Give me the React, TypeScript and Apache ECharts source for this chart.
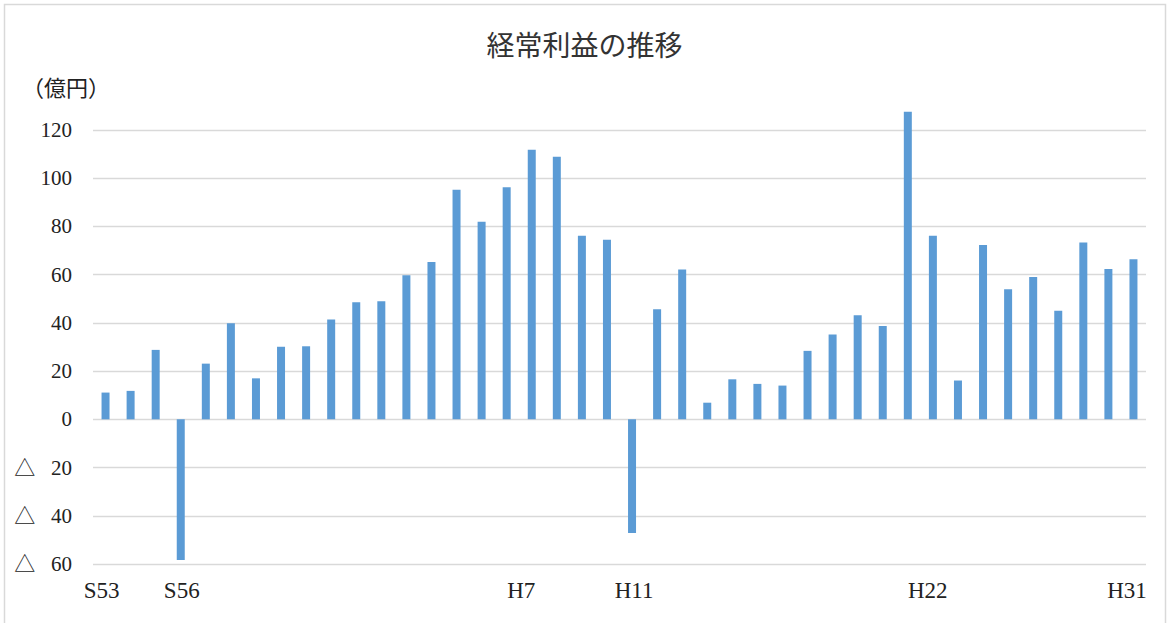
import React, { useEffect, useRef } from "react";
import * as echarts from "echarts";

const categories = [
  "S53", "S54", "S55", "S56", "S57", "S58", "S59", "S60", "S61", "S62", "S63",
  "H1", "H2", "H3", "H4", "H5", "H6", "H7", "H8", "H9", "H10",
  "H11", "H12", "H13", "H14", "H15", "H16", "H17", "H18", "H19", "H20",
  "H21", "H22", "H23", "H24", "H25", "H26", "H27", "H28", "H29", "H30", "H31",
];

const ordinaryProfit = [
  11.1, 11.8, 28.8, -58.3, 23.1, 39.8, 17.0, 30.1, 30.3, 41.4, 48.6,
  49.0, 59.8, 65.3, 95.2, 81.9, 96.3, 111.8, 108.9, 76.1, 74.5,
  -47.1, 45.7, 62.1, 6.9, 16.6, 14.7, 14.0, 28.4, 35.2, 43.2,
  38.7, 127.6, 76.1, 16.1, 72.3, 54.0, 59.0, 45.0, 73.3, 62.3, 66.4,
];

const shownLabels = ["S53", "S56", "H7", "H11", "H22", "H31"];

const yTicks = { min: -60, max: 120, interval: 20 };

const titleText = "経常利益の推移";
const unitText = "（億円）";

const SERIF = "'Liberation Serif', 'Noto Sans CJK JP', serif";

// label nudges (style only): [left padding, right padding]
const labelPad: Record<string, [number, number]> = {
  S53: [0, 8],
  S56: [2, 0],
  H7: [0, 21],
  H11: [4, 0],
  H22: [40, 0],
  H31: [0, 13],
};

export default function App() {
  const ref = useRef<HTMLDivElement>(null);

  useEffect(() => {
    if (!ref.current) return;
    const chart = echarts.init(ref.current, null, { renderer: "svg" });
    const rich: Record<string, any> = {};
    shownLabels.forEach((l) => {
      const p = labelPad[l] || [0, 0];
      rich[l] = {
        fontFamily: SERIF,
        fontSize: 23,
        color: "#222",
        padding: [0, p[1], 0, p[0]],
      };
    });
    chart.setOption({
      animation: false,
      backgroundColor: "#ffffff",
      title: {
        text: titleText,
        left: "center",
        top: 25,
        textStyle: {
          fontFamily: "'Noto Sans CJK JP', sans-serif",
          fontSize: 28,
          fontWeight: "normal",
          color: "#333",
        },
      },
      graphic: [
        {
          type: "rect",
          shape: { x: 4.5, y: 4.5, width: 1161, height: 630 },
          style: { fill: "none", stroke: "#d9d9d9", lineWidth: 1.5 },
          silent: true,
        },
        {
          type: "text",
          left: 22,
          top: 75,
          style: {
            text: unitText,
            fontFamily: "'Noto Sans CJK JP', sans-serif",
            fontSize: 22,
            fill: "#222",
          },
        },
      ],
      grid: { left: 93, right: 23, top: 130, bottom: 59, containLabel: false },
      xAxis: {
        type: "category",
        data: categories,
        axisLine: { show: false, onZero: false },
        axisTick: { show: false },
        splitLine: { show: false },
        axisLabel: {
          interval: 0,
          margin: 15,
          fontFamily: SERIF,
          fontSize: 23,
          color: "#222",
          rich,
          formatter: (v: string) =>
            shownLabels.includes(v) ? `{${v}|${v}}` : "",
        },
      },
      yAxis: {
        type: "value",
        min: yTicks.min,
        max: yTicks.max,
        interval: yTicks.interval,
        axisLine: { show: false },
        axisTick: { show: false },
        splitLine: { lineStyle: { color: "#d9d9d9", width: 1.3 } },
        axisLabel: {
          margin: 21,
          fontFamily: SERIF,
          fontSize: 21,
          color: "#222",
          formatter: (v: number) =>
            v < 0 ? "△\u00a0\u00a0\u00a0" + Math.abs(v) : String(v),
        },
      },
      series: [
        {
          type: "bar",
          data: ordinaryProfit,
          barWidth: 8,
          clip: false,
          itemStyle: { color: "#5B9BD5" },
        },
      ],
    });
    return () => chart.dispose();
  }, []);

  return (
    <div
      ref={ref}
      style={{ position: "fixed", left: 0, top: 0, width: 1169, height: 623 }}
    />
  );
}
